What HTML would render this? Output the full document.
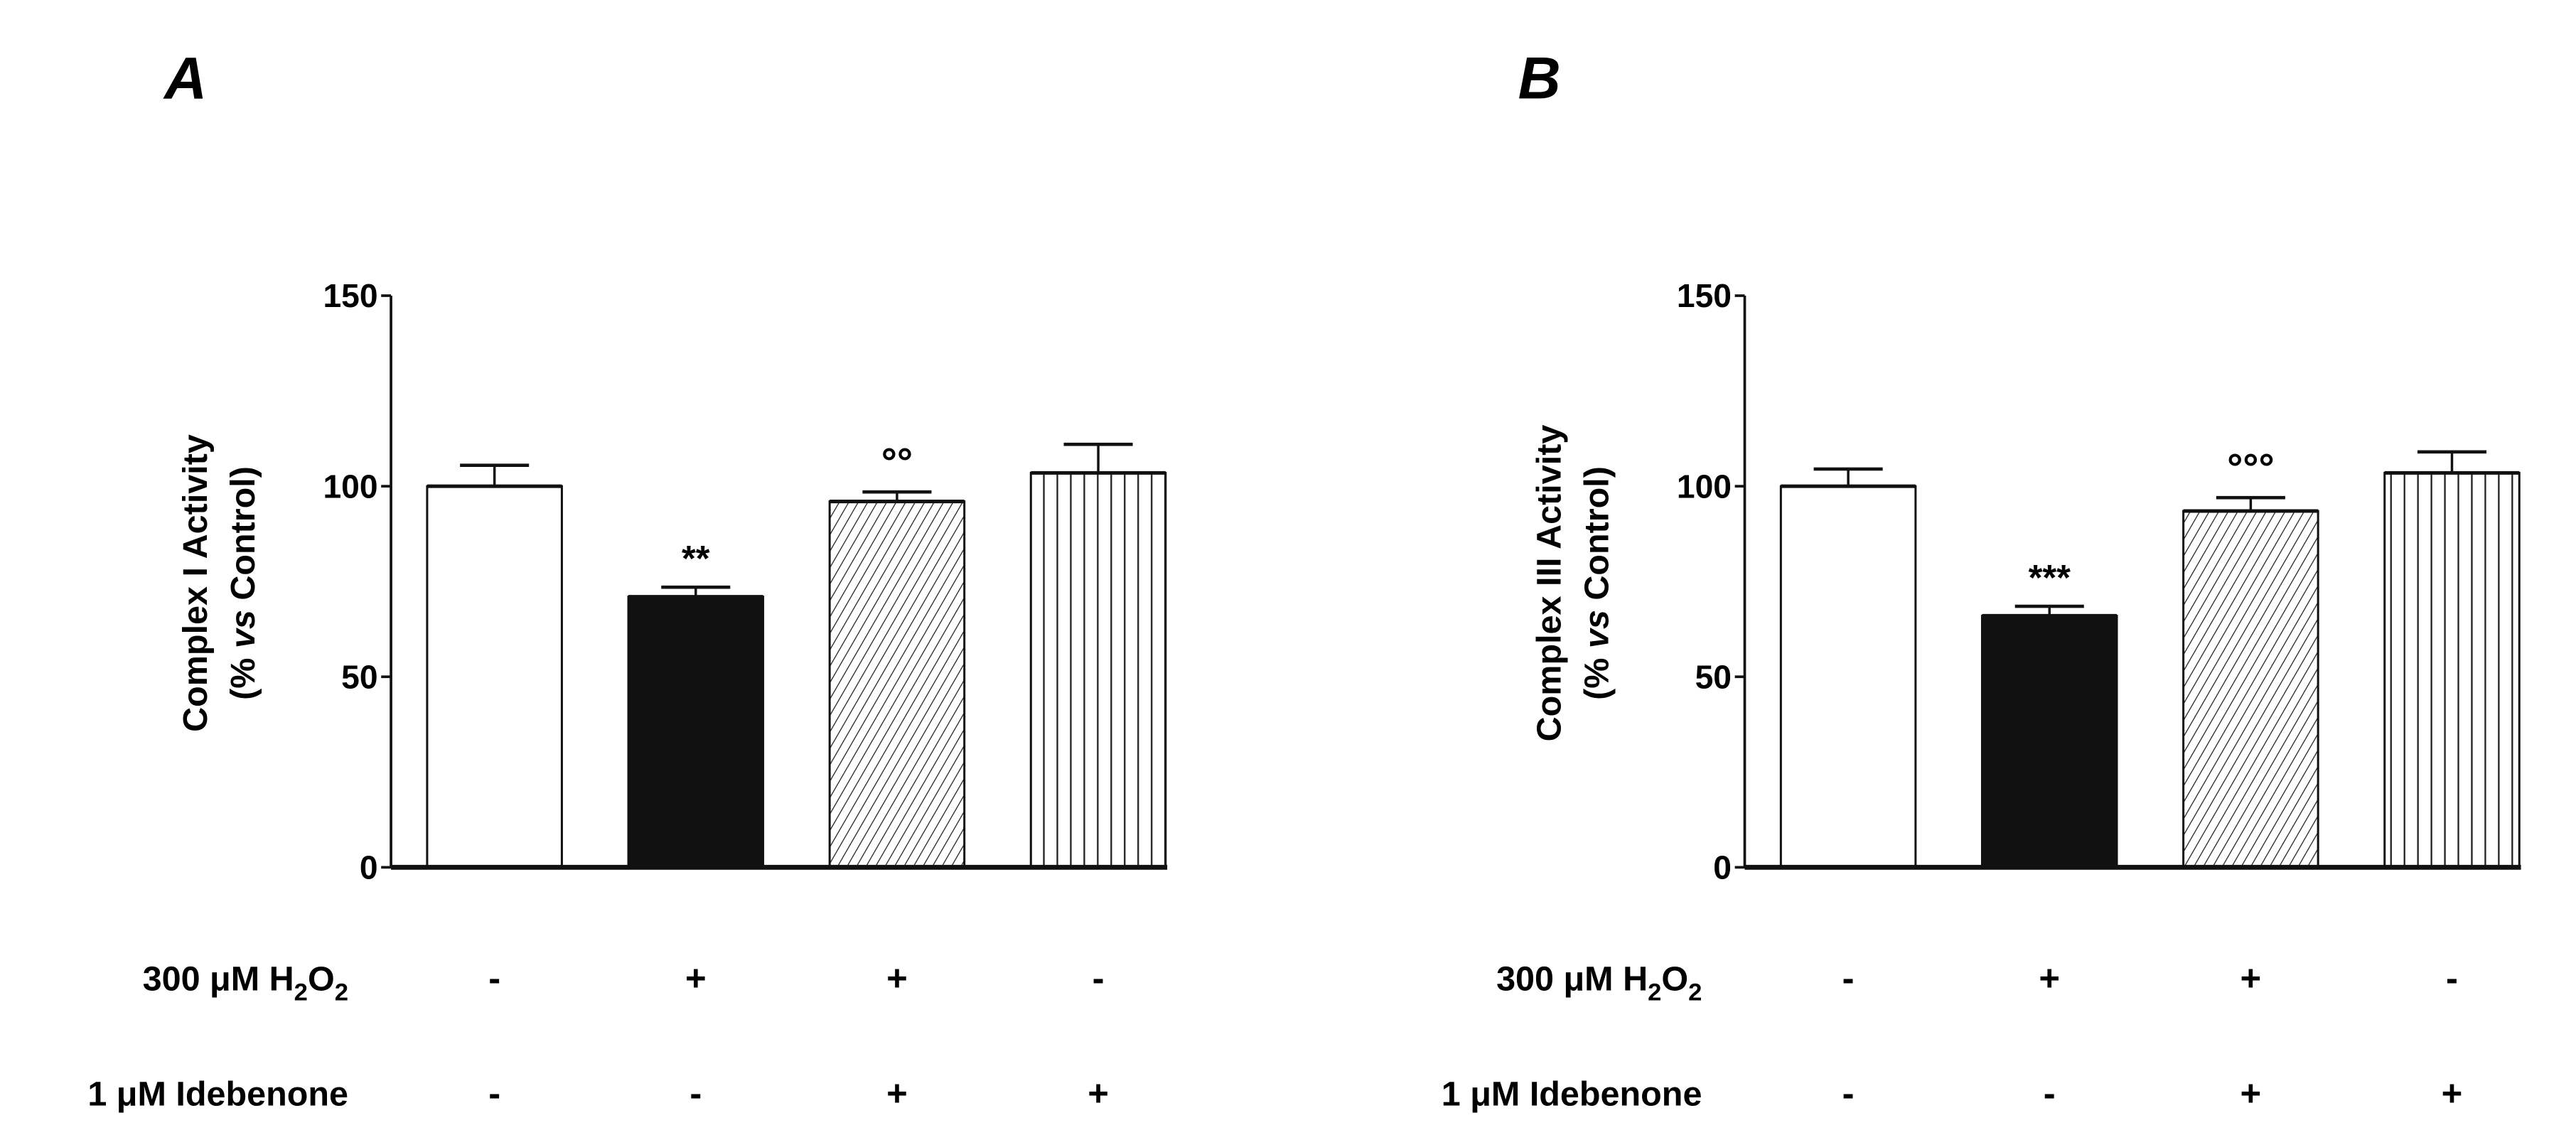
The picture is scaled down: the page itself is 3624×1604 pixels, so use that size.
<!DOCTYPE html>
<html><head><meta charset="utf-8"><style>
html,body{margin:0;padding:0;background:#fff}
svg{display:block;font-family:"Liberation Sans",sans-serif}
</style></head><body>
<svg id="fig" width="3624" height="1604" viewBox="0 0 1568 694" xmlns="http://www.w3.org/2000/svg">
<defs>
<pattern id="diag" patternUnits="userSpaceOnUse" width="5" height="5" patternTransform="rotate(30)">
<line x1="0" y1="0" x2="0" y2="5" stroke="#222" stroke-width="1.1"/></pattern>
<pattern id="vert" patternUnits="userSpaceOnUse" width="8.2" height="10" x="0">
<line x1="4" y1="0" x2="4" y2="10" stroke="#222" stroke-width="1"/></pattern>
</defs>
<g id="root"></g>
</svg>
<script>
const categories = ["Control", "H2O2", "H2O2 + Idebenone", "Idebenone"];
const valuesA = [100, 71, 96, 103.5];
const errorsA = [5.5, 2.5, 2.5, 7.5];
const valuesB = [100, 66, 93.5, 103.5];
const errorsB = [4.5, 2.5, 3.5, 5.5];
const yTicks = [0, 50, 100, 150];
const h2o2Signs = ["-", "+", "+", "-"];
const ideSigns = ["-", "-", "+", "+"];
const sigA = ["", "**", "°°", ""];
const sigB = ["", "***", "°°°", ""];

const NS = "http://www.w3.org/2000/svg";
const root = document.getElementById("root");
function mk(tag, attrs, parent, text){
  const e = document.createElementNS(NS, tag);
  for (const k in attrs) e.setAttribute(k, attrs[k]);
  if (text !== undefined) e.textContent = text;
  (parent || root).appendChild(e);
  return e;
}
const fills = ["#fff", "#111", "url(#diag)", "url(#vert)"];

function panel(id, ox, letter, ylabel, values, errors, sig){
  const g = mk("g", {});
  
  
  const y0 = 528, yTop = 180;
  const y = v => y0 - (v / 150) * (y0 - yTop);
  const barX = i => ox + 22 + i * 122.5;
  const bw = 82;
  const t = mk("text", {x: ox - 138, y: 60, "font-size": 36, "font-weight": "bold", "font-style": "italic"}, g, letter);
  
  
  const ax = mk("line", {x1: ox, y1: yTop, x2: ox, y2: y0, stroke: "#111", "stroke-width": 1.6}, g);
  
  
  yTicks.forEach(v => {
    const tk = mk("line", {x1: ox - 6, y1: y(v), x2: ox, y2: y(v), stroke: "#111", "stroke-width": 1.6}, g);
    
    
    const tl = mk("text", {x: ox - 8, y: y(v) + 7, "text-anchor": "end", "font-size": 20, "font-weight": "bold"}, g, String(v));
    
    
  });
  const yt = mk("text", {transform: `translate(${ox - 112},355) rotate(-90)`, "text-anchor": "middle", "font-size": 21, "font-weight": "bold"}, g);
  
  
  mk("tspan", {x: 0, y: 0}, yt, ylabel);
  mk("tspan", {x: 0, y: 29}, yt, "(% ");
  mk("tspan", {"font-style": "italic"}, yt, "vs");
  mk("tspan", {}, yt, " Control)");
  values.forEach((v, i) => {
    const x = barX(i);
    const top = y(v);
    const et = y(v + errors[i]);
    const c = x + bw / 2;
    const eb = mk("line", {x1: c, y1: top, x2: c, y2: et, stroke: "#111", "stroke-width": 1.5}, g);
    
    
    const cap = mk("line", {x1: c - 21, y1: et, x2: c + 21, y2: et, stroke: "#111", "stroke-width": 2}, g);
    
    
    const r = mk("rect", {x: x, y: top, width: bw, height: y0 - top, fill: fills[i], stroke: "#111", "stroke-width": 1.3}, g);
    
    
    const tl = mk("line", {x1: x, y1: top, x2: x + bw, y2: top, stroke: "#111", "stroke-width": 2.2}, g);
    
    
    if (sig[i]) {
      const s = mk("text", {x: c, y: et - 10, "text-anchor": "middle", "font-size": sig[i].includes("°") ? 24 : 22, "font-weight": "bold"}, g, sig[i]);
      
      
    }
    const s1 = mk("text", {x: c, y: 603, "text-anchor": "middle", "font-size": 22, "font-weight": "bold"}, g, h2o2Signs[i]);
    
    
    const s2 = mk("text", {x: c, y: 673, "text-anchor": "middle", "font-size": 22, "font-weight": "bold"}, g, ideSigns[i]);
    
    
  });
  const xa = mk("line", {x1: ox, y1: y0, x2: barX(3) + bw + 1, y2: y0, stroke: "#111", "stroke-width": 3}, g);
  
  
  const r1 = mk("text", {x: ox - 26, y: 603, "text-anchor": "end", "font-size": 21, "font-weight": "bold"}, g);
  
  
  mk("tspan", {}, r1, "300 μM H");
  mk("tspan", {dy: 6, "font-size": 15}, r1, "2");
  mk("tspan", {dy: -6}, r1, "O");
  mk("tspan", {dy: 6, "font-size": 15}, r1, "2");
  const r2 = mk("text", {x: ox - 26, y: 673, "text-anchor": "end", "font-size": 21, "font-weight": "bold"}, g, "1 μM  Idebenone");
  
  
}
panel("a", 238, "A", "Complex I  Activity", valuesA, errorsA, sigA);
panel("b", 1062, "B", "Complex III  Activity", valuesB, errorsB, sigB);
</script>
</body></html>
